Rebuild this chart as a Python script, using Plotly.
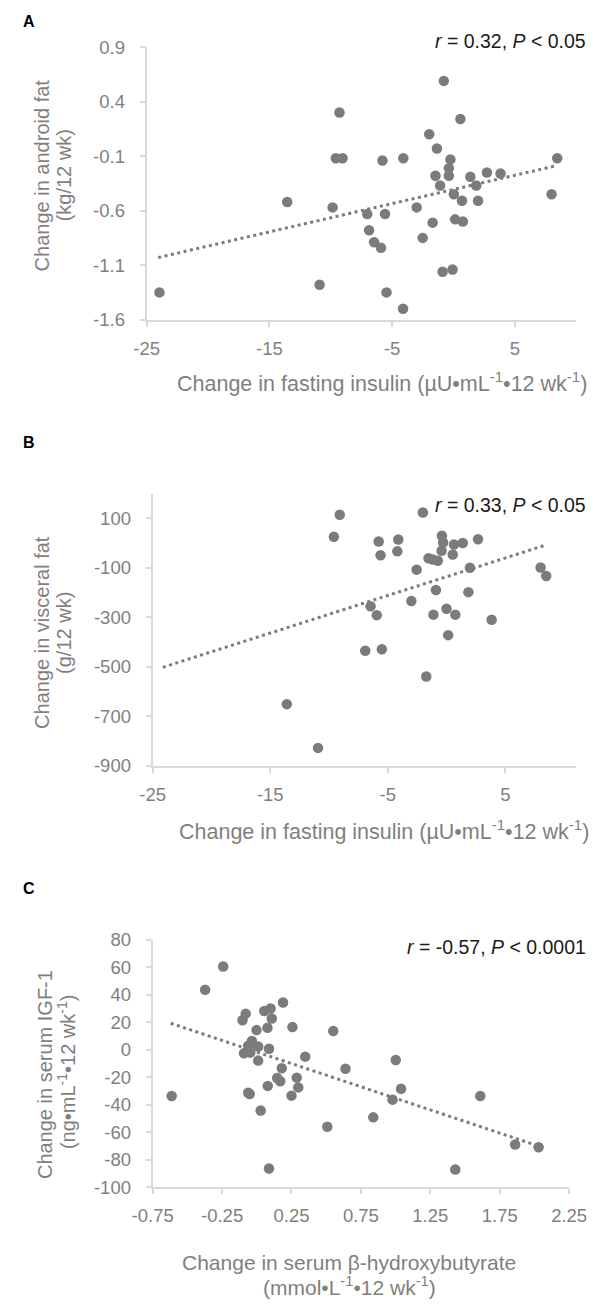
import plotly.graph_objects as go

W, H = 608, 1310

# ---------------- data ----------------
# Panel A: fasting insulin change vs android fat change
a_x = [-23.96, -10.91, -13.55, -9.29, -9.59, -9.04, -9.85, -7.03, -6.88, -6.47,
       -5.91, -5.79, -5.58, -5.46, -4.11, -4.09, -3.0, -2.51, -1.98, -1.70,
       -1.47, -1.35, -1.09, -0.89, -0.79, -0.38, -0.38, -0.25, -0.08, 0.03,
       0.13, 0.56, 0.69, 0.76, 1.37, 1.85, 2.0, 2.72, 3.83, 7.99, 8.45]
a_y = [-1.35, -1.28, -0.52, 0.30, -0.12, -0.12, -0.57, -0.63, -0.78, -0.89,
       -0.94, -0.14, -0.63, -1.35, -1.50, -0.12, -0.57, -0.85, 0.10, -0.71,
       -0.28, -0.03, -0.37, -1.16, 0.59, -0.28, -0.21, -0.13, -1.14, -0.45,
       -0.68, 0.24, -0.51, -0.70, -0.29, -0.37, -0.51, -0.25, -0.26, -0.45, -0.12]
a_trend_x = [-24.06, 8.30]
a_trend_y = [-1.03, -0.19]

# Panel B: fasting insulin change vs visceral fat change
b_x = [-9.09, -9.59, -2.02, -5.78, -5.62, -4.11, -4.19, -0.40, -0.30, -0.43,
       0.63, 1.37, 0.52, 2.67, -1.54, -1.17, -0.75, -2.55, 1.98, 7.99,
       8.47, -0.91, 1.85, -3.0, -6.47, -5.94, -1.12, -0.01, 0.74, 3.83,
       0.13, -6.92, -5.51, -1.73, -13.59, -10.94]
b_y = [115, 26, 124, 7, -49, 15, -33, 30, 3, -31,
       -5, 1, -46, 16, -61, -66, -71, -107, -99, -98,
       -133, -189, -198, -234, -255, -291, -289, -265, -289, -310,
       -372, -435, -429, -539, -651, -828]
b_trend_x = [-24.13, 8.47]
b_trend_y = [-502, -7]

# Panel C: beta-hydroxybutyrate change vs IGF-1 change
c_x = [-0.242, -0.372, 0.189, -0.080, -0.103, 0.054, 0.099, 0.108, 0.257, -0.002,
       0.077, 0.551, -0.035, -0.062, 0.010, -0.092, -0.047, 0.088, 0.010, 0.349,
       0.639, 0.180, 0.147, 0.169, 0.288, 0.299, 0.079, 0.250, -0.062, -0.051,
       -0.613, 0.028, 0.508, 0.839, 1.001, 1.039, 0.978, 1.610, 1.430, 0.088,
       1.861, 2.030]
c_y = [60.6, 43.7, 34.4, 26.3, 21.5, 28.2, 30.1, 22.7, 16.5, 14.3,
       16.0, 13.6, 6.4, 2.9, 2.4, -2.6, -2.1, 0.7, -7.9, -5.0,
       -13.8, -13.4, -20.5, -22.9, -20.3, -27.4, -26.3, -33.4, -31.3, -32.2,
       -33.7, -44.2, -56.1, -49.2, -7.4, -28.4, -36.3, -33.7, -87.1, -86.4,
       -69.0, -70.9]
c_trend_x = [-0.62, 2.025]
c_trend_y = [19.3, -69.9]

# tick values / labels (hyphen-minus as in the original)
ab_xticks = [-25, -15, -5, 5]
ab_xticklabels = ["-25", "-15", "-5", "5"]
a_yticks = [0.9, 0.4, -0.1, -0.6, -1.1, -1.6]
a_yticklabels = ["0.9", "0.4", "-0.1", "-0.6", "-1.1", "-1.6"]
b_yticks = [100, -100, -300, -500, -700, -900]
b_yticklabels = ["100", "-100", "-300", "-500", "-700", "-900"]
c_xticks = [-0.75, -0.25, 0.25, 0.75, 1.25, 1.75, 2.25]
c_xticklabels = ["-0.75", "-0.25", "0.25", "0.75", "1.25", "1.75", "2.25"]
c_yticks = [80, 60, 40, 20, 0, -20, -40, -60, -80, -100]
c_yticklabels = ["80", "60", "40", "20", "0", "-20", "-40", "-60", "-80", "-100"]

# ---------------- style ----------------
FONT = "Liberation Sans, Arial, sans-serif"
GRAY_TXT = "#7f7f7f"
MARK = "#7b7b7b"
AXIS = "#d9d9d9"
TICK_SIZE = 18.5
TITLE_SIZE = 21.5
YTITLE_SIZE = 20
XTITLE2_SIZE = 21
NOTE_SIZE = 19.5


def px2x(px):
    return px / W


def px2y(py):
    return 1 - py / H


fig = go.Figure()

panels = [
    (a_x, a_y, a_trend_x, a_trend_y, "x", "y"),
    (b_x, b_y, b_trend_x, b_trend_y, "x2", "y2"),
    (c_x, c_y, c_trend_x, c_trend_y, "x3", "y3"),
]
for xs, ys, tx, ty, xa, ya in panels:
    fig.add_trace(go.Scatter(x=xs, y=ys, mode="markers", xaxis=xa, yaxis=ya,
                             marker=dict(size=10.5, color=MARK, line=dict(width=0)),
                             showlegend=False, hoverinfo="skip"))
    fig.add_trace(go.Scatter(x=tx, y=ty, mode="lines", xaxis=xa, yaxis=ya,
                             line=dict(color=MARK, width=3, dash="3px,3.5px"),
                             showlegend=False, hoverinfo="skip"))

axis_common = dict(showline=True, linecolor=AXIS, linewidth=2, showgrid=False,
                   zeroline=False, ticks="outside", ticklen=5, tickwidth=2,
                   tickcolor=AXIS,
                   tickfont=dict(family=FONT, size=TICK_SIZE, color=GRAY_TXT),
                   fixedrange=True)

dom = {
    "A": dict(x=(134.3, 593.3), y=(36.7, 313.7)),
    "B": dict(x=(140.7, 593.0), y=(490.6, 767.0)),
    "C": dict(x=(140.7, 585.7), y=(944.0, 1195.3)),
}


def xd(k):
    return [px2x(dom[k]["x"][0]), px2x(dom[k]["x"][1])]


def yd(k):
    return [px2y(dom[k]["y"][1]), px2y(dom[k]["y"][0])]


fig.update_layout(
    width=W, height=H, autosize=False,
    margin=dict(l=0, r=0, t=0, b=0),
    paper_bgcolor="white", plot_bgcolor="white",
    font=dict(family=FONT, color=GRAY_TXT, size=TICK_SIZE),
    xaxis=dict(domain=xd("A"), range=[-25, 10], tickvals=ab_xticks,
               ticktext=ab_xticklabels, anchor="y", ticklabelstandoff=6, **axis_common),
    yaxis=dict(domain=yd("A"), range=[-1.6, 0.9], tickvals=a_yticks,
               ticktext=a_yticklabels, anchor="x", ticklabelstandoff=11, **axis_common),
    xaxis2=dict(domain=xd("B"), range=[-25, 11], tickvals=ab_xticks,
                ticktext=ab_xticklabels, anchor="y2", ticklabelstandoff=6, **axis_common),
    yaxis2=dict(domain=yd("B"), range=[-900, 200], tickvals=b_yticks,
                ticktext=b_yticklabels, anchor="x2", ticklabelstandoff=11, **axis_common),
    xaxis3=dict(domain=xd("C"), range=[-0.75, 2.25], tickvals=c_xticks,
                ticktext=c_xticklabels, anchor="y3", ticklabelstandoff=6, **axis_common),
    yaxis3=dict(domain=yd("C"), range=[-100, 80], tickvals=c_yticks,
                ticktext=c_yticklabels, anchor="x3", ticklabelstandoff=11, **axis_common),
)

ann = []


def add_text(text, px, py, size=TITLE_SIZE, color=GRAY_TXT, xanchor="center",
             yanchor="middle", angle=0):
    ann.append(dict(text=text, x=px2x(px), y=px2y(py), xref="paper", yref="paper",
                    xanchor=xanchor, yanchor=yanchor, showarrow=False,
                    textangle=angle, borderpad=0,
                    font=dict(family=FONT, size=size, color=color)))


# panel letters
add_text("<b>A</b>", 1, 11, size=16, color="#000000", xanchor="left")
add_text("<b>B</b>", 1, 439, size=16, color="#000000", xanchor="left")
add_text("<b>C</b>", 1, 892, size=16, color="#000000", xanchor="left")

# correlation notes
NOTE_COL = "#1a1a1a"
add_text("<i>r</i> = 0.32, <i>P</i> &lt; 0.05", 605, 30, size=NOTE_SIZE,
         color=NOTE_COL, xanchor="right")
add_text("<i>r</i> = 0.33, <i>P</i> &lt; 0.05", 605, 502, size=NOTE_SIZE,
         color=NOTE_COL, xanchor="right")
add_text("<i>r</i> = -0.57, <i>P</i> &lt; 0.0001", 605, 951, size=NOTE_SIZE,
         color=NOTE_COL, xanchor="right")

# x axis titles
ins_title = "Change in fasting insulin (µU•mL<sup>-1</sup>•12 wk<sup>-1</sup>)"
add_text(ins_title, 386, 377)
add_text(ins_title, 388, 832)
add_text("Change in serum β-hydroxybutyrate", 351, 1271.5, size=XTITLE2_SIZE)
add_text("(mmol•L<sup>-1</sup>•12 wk<sup>-1</sup>)", 351, 1296, size=XTITLE2_SIZE)

# y axis titles (one annotation per line)
add_text("Change in android fat", 22.5, 167, size=YTITLE_SIZE, angle=-90)
add_text("(kg/12 wk)", 46, 167, size=YTITLE_SIZE, angle=-90)
add_text("Change in visceral fat", 22.5, 632, size=YTITLE_SIZE, angle=-90)
add_text("(g/12 wk)", 46, 632, size=YTITLE_SIZE, angle=-90)
add_text("Change in serum IGF-1", 25, 1081, size=YTITLE_SIZE, angle=-90)
add_text("(ng•mL<sup>-1</sup>•12 wk<sup>-1</sup>)", 48.5, 1078, size=YTITLE_SIZE, angle=-90)

fig.update_layout(annotations=ann)

fig.write_html("out.html", config={"displayModeBar": False},
               post_script="document.body.style.margin='0';document.body.style.overflow='hidden';")
